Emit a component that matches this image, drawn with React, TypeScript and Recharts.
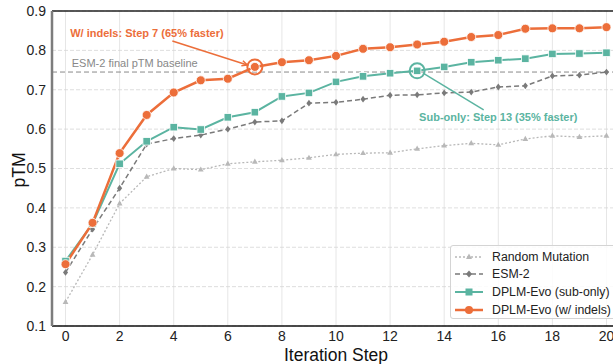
import React from "react";
import {
  LineChart,
  Line,
  XAxis,
  YAxis,
  CartesianGrid,
  ReferenceLine,
  ReferenceDot,
} from "recharts";

const steps = [0, 1, 2, 3, 4, 5, 6, 7, 8, 9, 10, 11, 12, 13, 14, 15, 16, 17, 18, 19, 20];
const randomMutation = [0.161, 0.281, 0.411, 0.479, 0.5, 0.497, 0.512, 0.517, 0.521, 0.527, 0.536, 0.539, 0.54, 0.55, 0.558, 0.564, 0.56, 0.575, 0.583, 0.58, 0.583];
const esm2 = [0.236, 0.346, 0.45, 0.562, 0.576, 0.585, 0.6, 0.618, 0.621, 0.666, 0.668, 0.676, 0.686, 0.687, 0.692, 0.694, 0.707, 0.71, 0.735, 0.737, 0.745];
const subOnly = [0.265, 0.36, 0.512, 0.569, 0.605, 0.599, 0.63, 0.643, 0.683, 0.692, 0.72, 0.734, 0.742, 0.748, 0.758, 0.77, 0.775, 0.779, 0.791, 0.792, 0.794];
const withIndels = [0.257, 0.362, 0.539, 0.636, 0.693, 0.724, 0.728, 0.758, 0.77, 0.775, 0.786, 0.804, 0.808, 0.815, 0.822, 0.834, 0.839, 0.855, 0.856, 0.856, 0.859];

const xTicks = [0, 2, 4, 6, 8, 10, 12, 14, 16, 18, 20];
const yTicks = [0.1, 0.2, 0.3, 0.4, 0.5, 0.6, 0.7, 0.8, 0.9];

const baseline = 0.745;
const indelsStep = 7;
const subStep = 13;

const ORANGE = "#EC6E3A";
const TEAL = "#5BB4A1";
const DARK_GRAY = "#7a7a7a";
const LIGHT_GRAY = "#b8b8b8";
const FONT = "'Liberation Sans', Arial, sans-serif";

const rows = steps.map((step, i) => ({
  step,
  random: randomMutation[i],
  esm2: esm2[i],
  sub: subOnly[i],
  indels: withIndels[i],
}));

// marker renderers
const circleDot = (color: string, r: number) => (p: any) =>
  p.cx == null ? <g key={`c${p.index}`} /> : (
    <circle key={`c${p.index}`} cx={p.cx} cy={p.cy} r={r} fill={color} stroke="#fff" strokeWidth={0.8} />
  );

const squareDot = (color: string, s: number) => (p: any) =>
  p.cx == null ? <g key={`s${p.index}`} /> : (
    <rect key={`s${p.index}`} x={p.cx - s / 2} y={p.cy - s / 2} width={s} height={s} fill={color} stroke="#fff" strokeWidth={0.8} />
  );

const diamondDot = (color: string, s: number) => (p: any) =>
  p.cx == null ? <g key={`d${p.index}`} /> : (
    <polygon
      key={`d${p.index}`}
      points={`${p.cx},${p.cy - s} ${p.cx + s * 0.75},${p.cy} ${p.cx},${p.cy + s} ${p.cx - s * 0.75},${p.cy}`}
      fill={color}
    />
  );

const triangleDot = (color: string, s: number) => (p: any) =>
  p.cx == null ? <g key={`t${p.index}`} /> : (
    <polygon
      key={`t${p.index}`}
      points={`${p.cx},${p.cy - s} ${p.cx + s * 0.9},${p.cy + s * 0.6} ${p.cx - s * 0.9},${p.cy + s * 0.6}`}
      fill={color}
    />
  );

// annotation connector, optional small head at the end point
const arrowShape = (color: string, head: boolean) => (p: any) => {
  const { x1, y1, x2, y2 } = p;
  const a = Math.atan2(y2 - y1, x2 - x1);
  const L = 6;
  const w = 0.45;
  return (
    <g>
      <line x1={x1} y1={y1} x2={x2} y2={y2} stroke={color} strokeWidth={1.5} />
      {head && (
        <polyline
          points={`${x2 - L * Math.cos(a - w)},${y2 - L * Math.sin(a - w)} ${x2},${y2} ${x2 - L * Math.cos(a + w)},${y2 - L * Math.sin(a + w)}`}
          fill="none"
          stroke={color}
          strokeWidth={1.5}
        />
      )}
    </g>
  );
};

const YTitle = () => (
  <text x={19} y={170} transform="rotate(-90 19 170)" textAnchor="middle" dominantBaseline="central" fontSize={17.5} fill="#111" fontFamily={FONT}>
    pTM
  </text>
);

const XTitle = () => (
  <text x={336} y={361} textAnchor="middle" fontSize={17.5} fill="#111" fontFamily={FONT}>
    Iteration Step
  </text>
);

const legendItems = [
  { name: "Random Mutation", color: LIGHT_GRAY, dash: "2 2", width: 1.3, marker: "tri" },
  { name: "ESM-2", color: DARK_GRAY, dash: "5 3", width: 1.5, marker: "dia" },
  { name: "DPLM-Evo (sub-only)", color: TEAL, dash: undefined, width: 2, marker: "sq" },
  { name: "DPLM-Evo (w/ indels)", color: ORANGE, dash: undefined, width: 2.5, marker: "ci" },
];

function LegendBox() {
  return (
    <div
      style={{
        position: "absolute",
        left: 450,
        top: 245,
        width: 175,
        height: 74,
        border: "1px solid #d4d4d4",
        borderRadius: 3,
        background: "rgba(255,255,255,0.85)",
        boxSizing: "border-box",
        paddingTop: 2,
      }}
    >
      {legendItems.map((it) => (
        <div key={it.name} style={{ display: "flex", alignItems: "center", height: 17.6 }}>
          <svg width={38} height={12} style={{ marginLeft: 3, flex: "none" }}>
            <line x1={1} y1={6} x2={29} y2={6} stroke={it.color} strokeWidth={it.width} strokeDasharray={it.dash} />
            {it.marker === "ci" && <circle cx={15} cy={6} r={4} fill={it.color} />}
            {it.marker === "sq" && <rect x={11.5} y={2.5} width={7} height={7} fill={it.color} />}
            {it.marker === "dia" && <polygon points="15,2.5 18,6 15,9.5 12,6" fill={it.color} />}
            {it.marker === "tri" && <polygon points="15,2.5 18,8 12,8" fill={it.color} />}
          </svg>
          <span style={{ fontSize: 12.3, color: "#222", fontFamily: FONT, whiteSpace: "nowrap" }}>{it.name}</span>
        </div>
      ))}
    </div>
  );
}

export default function App() {
  return (
    <div
      style={{
        position: "fixed",
        left: 0,
        top: 0,
        width: 613,
        height: 364,
        overflow: "hidden",
        background: "#fff",
        fontFamily: FONT,
      }}
    >
      <LineChart width={640} height={364} data={rows} margin={{ top: 11, right: 20, bottom: 0, left: 0 }} style={{ fontFamily: FONT }}>
        <CartesianGrid horizontal={false} stroke="#e6e6e6" strokeWidth={1} />
        <CartesianGrid vertical={false} stroke="#d6d6d6" strokeDasharray="4 2" strokeWidth={0.8} />
        <XAxis
          dataKey="step"
          type="number"
          domain={[-0.5, 20.5]}
          ticks={xTicks}
          height={38}
          tickLine={false}
          tickSize={3}
          tickMargin={2}
          axisLine={{ stroke: "#111", strokeWidth: 1.5 }}
          tick={{ fontSize: 14, fill: "#222" }}
          label={<XTitle />}
        />
        <YAxis
          type="number"
          domain={[0.1, 0.9]}
          ticks={yTicks}
          width={52}
          tickLine={false}
          tickSize={4}
          tickMargin={2}
          axisLine={{ stroke: "#7d7d7d", strokeWidth: 2.5 }}
          tick={{ fontSize: 14, fill: "#222" }}
          tickFormatter={(v: number) => v.toFixed(1)}
          label={<YTitle />}
        />
        <ReferenceLine y={0.9} stroke="#222" strokeWidth={1.5} />
        <ReferenceLine y={baseline} stroke="#8a8a8a" strokeWidth={1} strokeDasharray="5 3" />

        <Line dataKey="random" stroke={LIGHT_GRAY} strokeWidth={1.3} strokeDasharray="2 2" dot={triangleDot(LIGHT_GRAY, 3.2)} activeDot={false} isAnimationActive={false} />
        <Line dataKey="esm2" stroke={DARK_GRAY} strokeWidth={1.5} strokeDasharray="5 3" dot={diamondDot(DARK_GRAY, 3.4)} activeDot={false} isAnimationActive={false} />
        <Line dataKey="sub" stroke={TEAL} strokeWidth={2} dot={squareDot(TEAL, 7.5)} activeDot={false} isAnimationActive={false} />
        <Line dataKey="indels" stroke={ORANGE} strokeWidth={2.5} dot={circleDot(ORANGE, 4.5)} activeDot={false} isAnimationActive={false} />

        <ReferenceDot x={indelsStep} y={withIndels[indelsStep]} r={7.5} fill="none" stroke={ORANGE} strokeWidth={2} ifOverflow="visible" />
        <ReferenceDot x={subStep} y={subOnly[subStep]} r={7.5} fill="none" stroke={TEAL} strokeWidth={2} ifOverflow="visible" />

        <ReferenceLine segment={[{ x: 3.95, y: 0.824 }, { x: 6.72, y: 0.763 }]} ifOverflow="visible" shape={arrowShape(ORANGE, true)} />
        <ReferenceLine segment={[{ x: 15.46, y: 0.649 }, { x: 13.22, y: 0.742 }]} ifOverflow="visible" shape={arrowShape(TEAL, false)} />

        <ReferenceDot
          x={3.01}
          y={0.844}
          r={1}
          fill="none"
          stroke="none"
          ifOverflow="visible"
          label={{ value: "W/ indels: Step 7 (65% faster)", position: "center", fill: ORANGE, fontSize: 11, fontWeight: 700 }}
        />
        <ReferenceDot
          x={2.56}
          y={0.768}
          r={1}
          fill="none"
          stroke="none"
          ifOverflow="visible"
          label={{ value: "ESM-2 final pTM baseline", position: "center", fill: "#888", fontSize: 11 }}
        />
        <ReferenceDot
          x={16.0}
          y={0.631}
          r={1}
          fill="none"
          stroke="none"
          ifOverflow="visible"
          label={{ value: "Sub-only: Step 13 (35% faster)", position: "center", fill: TEAL, fontSize: 11, fontWeight: 700 }}
        />
      </LineChart>
      <LegendBox />
    </div>
  );
}
